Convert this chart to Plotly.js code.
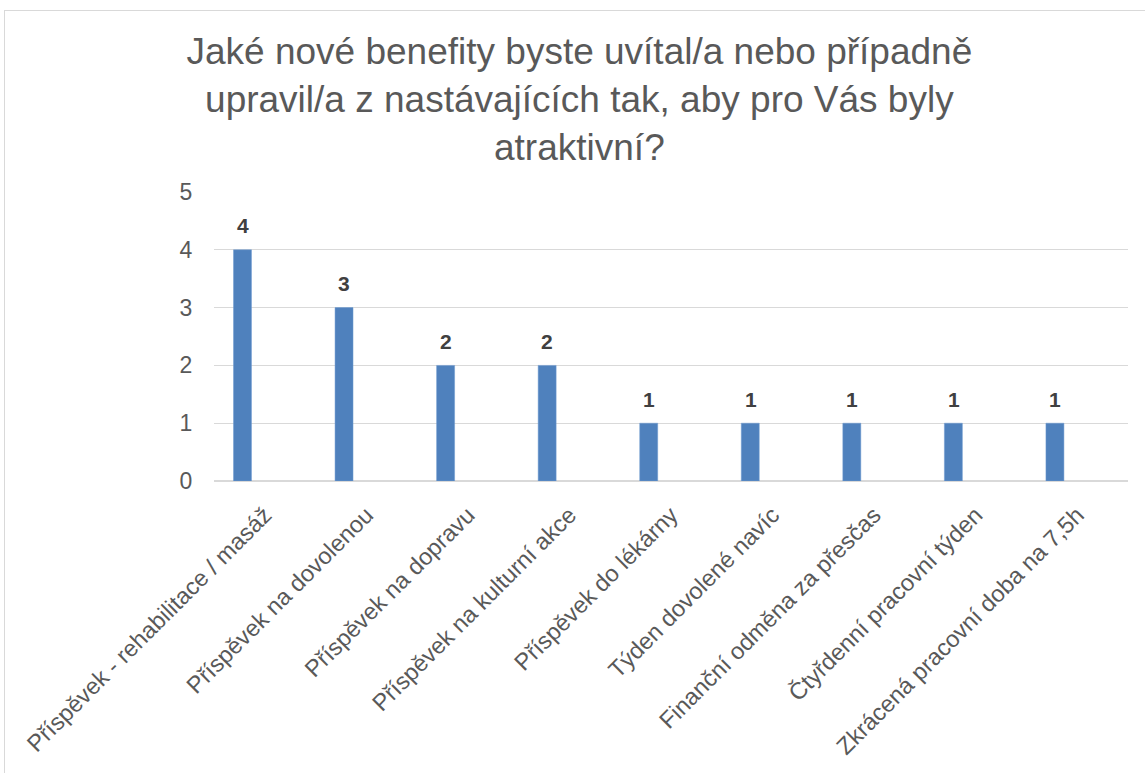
<!DOCTYPE html>
<html>
<head>
<meta charset="utf-8">
<script src="https://cdn.plot.ly/plotly-3.0.1.min.js"></script>
<style>
  html, body { margin: 0; padding: 0; background: #ffffff; overflow: hidden; }
  #chart { width: 1145px; height: 773px; position: absolute; left: 0; top: 0; }
  #frame { position: absolute; left: 4px; top: 10px; width: 1200px; height: 800px;
           border-left: 1.5px solid #d9d9d9; border-top: 1.5px solid #d9d9d9;
           pointer-events: none; z-index: 10; box-sizing: border-box; }
</style>
</head>
<body>
<div id="chart"></div>
<div id="frame"></div>
<script>
const titleText = "Jaké nové benefity byste uvítal/a nebo případně<br>upravil/a z nastávajících tak, aby pro Vás byly<br>atraktivní?";
const categories = [
  "Příspěvek - rehabilitace / masáž",
  "Příspěvek na dovolenou",
  "Příspěvek na dopravu",
  "Příspěvek na kulturní akce",
  "Příspěvek do lékárny",
  "Týden dovolené navíc",
  "Finanční odměna za přesčas",
  "Čtyřdenní pracovní týden",
  "Zkrácená pracovní doba na 7,5h"
];
const values = [4, 3, 2, 2, 1, 1, 1, 1, 1];
const yTicks = [0, 1, 2, 3, 4, 5];

const FONT = "Liberation Sans, Arial, sans-serif";

const trace = {
  type: "bar",
  x: categories,
  y: values,
  width: 0.177,
  offset: -0.308,
  marker: { color: "#4f81bd", line: { color: "#6f9ad0", width: 0.5 } },
  hoverinfo: "x+y"
};

const annotations = categories.map((c, i) => ({
  x: c, y: values[i], xref: "x", yref: "y",
  text: "<b>" + values[i] + "</b>",
  showarrow: false,
  xanchor: "center", yanchor: "middle",
  xshift: -22, yshift: 24,
  font: { family: FONT, size: 21, color: "#404040" }
}));

const layout = {
  width: 1145, height: 773,
  margin: { l: 214, r: 17, t: 192, b: 292 },
  paper_bgcolor: "#ffffff",
  plot_bgcolor: "#ffffff",
  showlegend: false,
  bargap: 0,
  title: {
    text: titleText,
    font: { family: FONT, size: 37, color: "#595959" },
    x: 0.506, xanchor: "center",
    y: 0.917, yanchor: "top",
    yref: "container"
  },
  xaxis: {
    type: "category",
    range: [-0.5, 8.5],
    tickangle: -45,
    tickfont: { family: FONT, size: 23.5, color: "#595959" },
    showgrid: false,
    showline: false,
    zeroline: false,
    ticks: "outside", ticklen: 10, tickcolor: "rgba(0,0,0,0)",
    fixedrange: true
  },
  yaxis: {
    range: [0, 5],
    tickvals: yTicks,
    ticktext: yTicks.map(String),
    tickfont: { family: FONT, size: 23, color: "#595959" },
    showgrid: true,
    gridcolor: "#d9d9d9",
    gridwidth: 1.3,
    zeroline: true,
    zerolinecolor: "#d9d9d9",
    zerolinewidth: 1.3,
    showline: false,
    ticks: "outside", ticklen: 16, tickcolor: "rgba(0,0,0,0)",
    fixedrange: true
  },
  annotations: annotations
};

Plotly.newPlot("chart", [trace], layout, { displayModeBar: false, staticPlot: true });
</script>
</body>
</html>
